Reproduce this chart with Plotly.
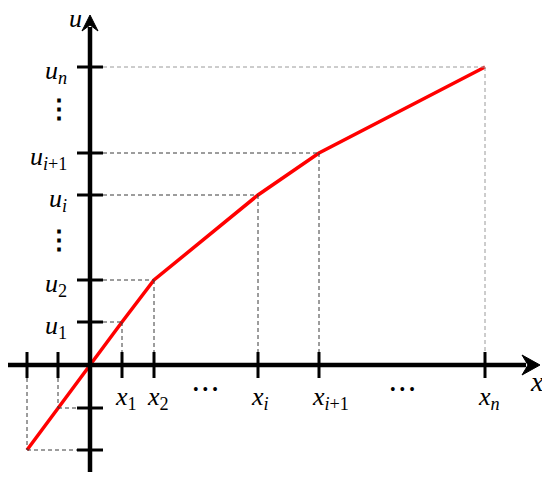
import plotly.graph_objects as go

# ---- data (in chart units; origin at axis crossing) ----
curve_x = [-63, -32, 0, 32, 64, 168, 229, 395]
curve_u = [-85, -43, 0, 43, 85, 170, 212, 298]

x_tick_vals = [32, 64, 168, 229, 395]
x_tick_labels = ["<i>x</i><sub>1</sub>", "<i>x</i><sub>2</sub>", "<i>x<sub>i</sub></i>",
                 "<i>x<sub>i</sub></i><sub>+1</sub>", "<i>x<sub>n</sub></i>"]
u_tick_vals = [43, 85, 170, 212, 298]
u_tick_labels = ["<i>u</i><sub>1</sub>", "<i>u</i><sub>2</sub>", "<i>u<sub>i</sub></i>",
                 "<i>u<sub>i</sub></i><sub>+1</sub>", "<i>u<sub>n</sub></i>"]
neg_x_vals = [-63, -32]
neg_u_vals = [-85, -43]
x_dots_pos = [115, 312]
u_dots_pos = [256, 125]

FONT = "Liberation Serif"
BLACK = "#000000"
DASH = "#3a3a3a"

fig = go.Figure()
shapes = []

def seg(x0, y0, x1, y1, color=BLACK, width=3.5, dash=None):
    line = dict(color=color, width=width)
    if dash:
        line["dash"] = dash
    shapes.append(dict(type="line", xref="x", yref="y", x0=x0, y0=y0, x1=x1, y1=y1,
                       line=line, layer="above"))

TK = 13  # tick half-length
for i, (xv, uv) in enumerate(zip(x_tick_vals, u_tick_vals)):
    col = "#9a9a9a" if i == len(x_tick_vals) - 1 else DASH
    seg(TK, uv, xv, uv, color=col, width=1, dash="4px,3px")
    seg(xv, uv, xv, TK, color=col, width=1, dash="4px,3px")
for xv, uv in zip(neg_x_vals, neg_u_vals):
    seg(xv, -TK, xv, uv, color=DASH, width=1, dash="4px,3px")
    seg(xv, uv, -TK, uv, color=DASH, width=1, dash="4px,3px")

# axes with arrowheads
seg(-85, 0, 436, 0, width=4.5)
seg(0, -107, 0, 338, width=4.5)
shapes.append(dict(type="path", xref="x", yref="y",
                   path="M 450 0 L 432 -10 L 438 0 L 432 10 Z",
                   fillcolor=BLACK, line=dict(color=BLACK, width=1)))
shapes.append(dict(type="path", xref="x", yref="y",
                   path="M 0 350 L -8 334 L 0 340 L 8 334 Z",
                   fillcolor=BLACK, line=dict(color=BLACK, width=1)))

for xv in x_tick_vals + neg_x_vals:
    seg(xv, -TK, xv, TK, width=3)
for uv in u_tick_vals + neg_u_vals:
    seg(-TK, uv, TK, uv, width=3)

fig.update_layout(shapes=shapes)

fig.add_trace(go.Scatter(x=curve_x, y=curve_u, mode="lines",
                         line=dict(color="#ff0000", width=3.5), hoverinfo="skip"))

ann = []
for xv, lab in zip(x_tick_vals, x_tick_labels):
    ann.append(dict(x=xv, y=-15, text=lab, showarrow=False, xanchor="left", yanchor="top",
                    xshift=-9, font=dict(family=FONT, size=26, color=BLACK)))
for uv, lab in zip(u_tick_vals, u_tick_labels):
    ann.append(dict(x=-21, y=uv, text=lab, showarrow=False, xanchor="right", yanchor="top",
                    yshift=13, font=dict(family=FONT, size=26, color=BLACK)))
for xv in x_dots_pos:
    ann.append(dict(x=xv, y=-24, text="• • •", showarrow=False, xanchor="center",
                    yanchor="middle", font=dict(family=FONT, size=16, color=BLACK)))
for uv in u_dots_pos:
    ann.append(dict(x=-31, y=uv, text="<b>⋮</b>", showarrow=False, xanchor="center",
                    yanchor="middle", font=dict(family=FONT, size=26, color=BLACK)))
ann.append(dict(x=-15, y=347, text="<i>u</i>", showarrow=False, xanchor="center",
                yanchor="middle", font=dict(family=FONT, size=26, color=BLACK)))
ann.append(dict(x=447, y=-16, text="<i>x</i>", showarrow=False, xanchor="center",
                yanchor="middle", font=dict(family=FONT, size=28, color=BLACK)))

# page body has an 8px margin: shrink figure and shift ranges so that
# window pixel = 90 + x, 365 - u
fig.update_layout(
    annotations=ann,
    width=534, height=464,
    margin=dict(l=0, r=0, t=0, b=0),
    paper_bgcolor="white", plot_bgcolor="white",
    showlegend=False,
    xaxis=dict(range=[-82, 452], visible=False, fixedrange=True),
    yaxis=dict(range=[-107, 357], visible=False, fixedrange=True),
)

fig.write_html("out.html")
